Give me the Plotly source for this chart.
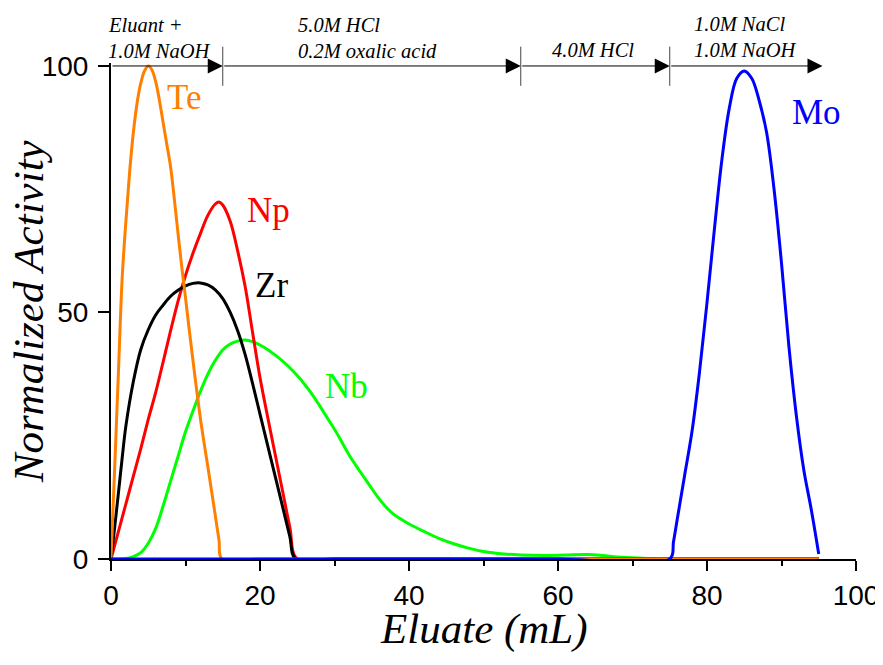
import plotly.graph_objects as go

# ---------------- data ----------------
te_x = [0, 0.5, 1, 1.5, 2, 2.5, 3, 3.5, 4, 4.5, 5, 5.5, 6, 6.5, 7, 7.5, 8, 8.5, 9, 9.5, 10, 10.5, 11, 11.5, 12,
        12.5, 13, 13.5, 14, 14.5, 14.9, 20, 40, 60, 80, 95]
te_y = [0, 18.7, 38, 57, 68.5, 78.5, 86.5, 92.5, 96.5, 99, 100, 99.2, 96.8, 93, 88.5, 84, 79.5, 73, 66, 59.2, 53,
        46.5, 40.3, 34.2, 28.5, 23.5, 18.7, 13.8, 8.8, 3.8, 0, 0, 0, 0, 0, 0]

np_x = [0, 1, 2, 3, 4, 5, 6, 7, 8, 9, 10, 11, 12, 13, 14, 14.5, 15, 16, 17, 18, 19, 20, 21, 22, 23, 24, 25, 30, 50, 70, 95]
np_y = [0, 5.6, 11.2, 16.8, 22.4, 28.3, 33.8, 40, 46.3, 52.3, 57.5, 62, 66, 69.7, 72, 72.4, 71.8, 68.5, 62.5, 55.3, 46,
        36.8, 29, 21.5, 14, 6.5, 0, 0, 0, 0, 0]

zr_x = [0, 0.5, 1, 1.5, 2, 3, 4, 5, 6, 7, 8, 9, 10, 11, 12, 13, 14, 15, 16, 17, 18, 19, 20, 21, 22, 23, 24, 24.8, 30, 50, 70, 95]
zr_y = [0, 6.5, 13.4, 20.5, 27, 36, 42.5, 46.5, 49.5, 51.5, 53.3, 54.5, 55.4, 55.9, 56, 55.6, 54.6, 52.8, 50, 46.3,
        41.5, 35.6, 29.4, 23.2, 17, 10.8, 4.6, 0, 0, 0, 0, 0]

nb_x = [0, 2, 3, 4, 5, 6, 7, 8, 9, 10, 11, 12, 13, 14, 15, 16, 17, 18, 19, 20, 21, 22, 23, 24, 25, 26, 27, 28, 29, 30,
        31, 32, 33, 34, 35, 36, 37, 38, 39, 40, 42, 44, 46, 48, 50, 52, 55, 58, 61, 64, 66, 68, 70, 72, 75, 80, 95]
nb_y = [0, 0.1, 0.5, 1.3, 3.2, 6.2, 10.8, 15.8, 20.8, 25.8, 30, 34, 37.5, 40.3, 42.4, 43.6, 44.2, 44.4, 44.1, 43.4,
        42.5, 41.4, 40.2, 38.8, 37.2, 35.4, 33.4, 31.1, 28.7, 26.3, 23.7, 21, 18.7, 16.5, 14.3, 12.2, 10.4, 9, 8, 7.1,
        5.6, 4.2, 3.1, 2.2, 1.5, 1.1, 0.8, 0.7, 0.8, 0.9, 0.7, 0.4, 0.25, 0.1, 0, 0, 0]

mo_x = [0, 20, 40, 60, 75, 75.5, 76, 76.5, 77, 78, 79, 80, 81, 82, 83, 84, 85, 86, 87, 88, 89, 90, 91, 92, 93, 94, 95]
mo_y = [0, 0, 0, 0, 0, 3.5, 8, 12.5, 17, 26, 38, 52, 67, 81, 91.5, 97.5, 99, 97.5, 93, 86.5, 75, 60, 43, 29, 18, 10, 1]

series_names = ["Nb", "Np", "Zr", "Te", "Mo"]
series_colors = ["#00FF00", "#FF0000", "#000000", "#FF8000", "#0000FF"]
series_x = [nb_x, np_x, zr_x, te_x, mo_x]
series_y = [nb_y, np_y, zr_y, te_y, mo_y]

# label positions (data coords)
label_x = [31.6, 21.2, 21.6, 9.8, 94.7]
label_y = [35.0, 70.6, 55.4, 93.7, 90.6]

# eluent segments
seg_start = [0, 15, 55, 75]
seg_end = [15, 55, 75, 95.5]
separators = [15, 55, 75]
eluent_lines = [
    (-0.0067, 1.0765, "Eluant +"),
    (-0.0067, 1.0242, "1.0M NaOH"),
    (0.2483, 1.0765, "5.0M HCl"),
    (0.2483, 1.0242, "0.2M oxalic acid"),
    (0.5893, 1.0262, "4.0M HCl"),
    (0.7799, 1.0785, "1.0M NaCl"),
    (0.7799, 1.0262, "1.0M NaOH"),
]

x_ticks = [0, 20, 40, 60, 80, 100]
y_ticks = [0, 50, 100]

SERIF = "Liberation Serif, Times New Roman, serif"
SANS = "Liberation Sans, Arial, sans-serif"

fig = go.Figure()
for name, col, xs, ys in zip(series_names, series_colors, series_x, series_y):
    fig.add_trace(go.Scatter(x=xs, y=ys, mode="lines", name=name,
                             line=dict(color=col, width=3, shape="spline", smoothing=1.0),
                             showlegend=False))

annotations = []
for name, col, lx, ly in zip(series_names, series_colors, label_x, label_y):
    annotations.append(dict(x=lx, y=ly, xref="x", yref="y", text=name, showarrow=False,
                            font=dict(family=SERIF, size=35, color=col),
                            xanchor="center", yanchor="middle"))

for s, e in zip(seg_start, seg_end):
    annotations.append(dict(x=e, y=100, ax=s, ay=100, xref="x", yref="y", axref="x", ayref="y",
                            text="", showarrow=True, arrowhead=2, arrowsize=3, arrowwidth=1,
                            arrowcolor="black", standoff=0, startstandoff=0))

for lx, ly, txt in eluent_lines:
    annotations.append(dict(x=lx, y=ly, xref="paper", yref="paper", text="<i>" + txt + "</i>",
                            showarrow=False, xanchor="left", yanchor="middle",
                            font=dict(family=SERIF, size=20.5, color="black")))

annotations.append(dict(x=0.5, y=-0.142, xref="paper", yref="paper", text="<i>Eluate (mL)</i>",
                        showarrow=False, xanchor="center", yanchor="middle",
                        font=dict(family=SERIF, size=43, color="black")))
annotations.append(dict(x=-0.111, y=0.5, xref="paper", yref="paper", text="<i>Normalized Activity</i>",
                        showarrow=False, xanchor="center", yanchor="middle", textangle=-90,
                        font=dict(family=SERIF, size=43, color="black")))

shapes = []
for sx in separators:
    shapes.append(dict(type="line", xref="x", yref="paper", x0=sx, x1=sx, y0=0.954, y1=1.033,
                       line=dict(color="#444444", width=1)))

# the page body adds an 8px offset, so the figure is 8px smaller and margins compensate
fig.update_layout(
    width=875, height=657,
    margin=dict(l=103, r=27, t=55, b=105.5, autoexpand=False),
    paper_bgcolor="white", plot_bgcolor="white",
    annotations=annotations, shapes=shapes,
    xaxis=dict(range=[0, 100], tickvals=x_ticks, ticktext=[str(v) for v in x_ticks],
               showline=True, linecolor="black", linewidth=2, mirror=False,
               ticks="outside", ticklen=10, tickwidth=2, tickcolor="black",
               minor=dict(ticks="outside", ticklen=5, tickwidth=1.5, tickcolor="black", dtick=10, tick0=0, showgrid=False),
               showgrid=False, zeroline=False,
               tickfont=dict(family=SANS, size=28, color="black")),
    yaxis=dict(range=[0, 100.6], tickvals=y_ticks, ticktext=[str(v) for v in y_ticks],
               showline=True, linecolor="black", linewidth=2, mirror=False,
               ticks="outside", ticklen=11, tickwidth=2, tickcolor="black",
               ticklabelstandoff=4,
               showgrid=False, zeroline=False,
               tickfont=dict(family=SANS, size=28, color="black")),
)

fig.write_html("out.html")
